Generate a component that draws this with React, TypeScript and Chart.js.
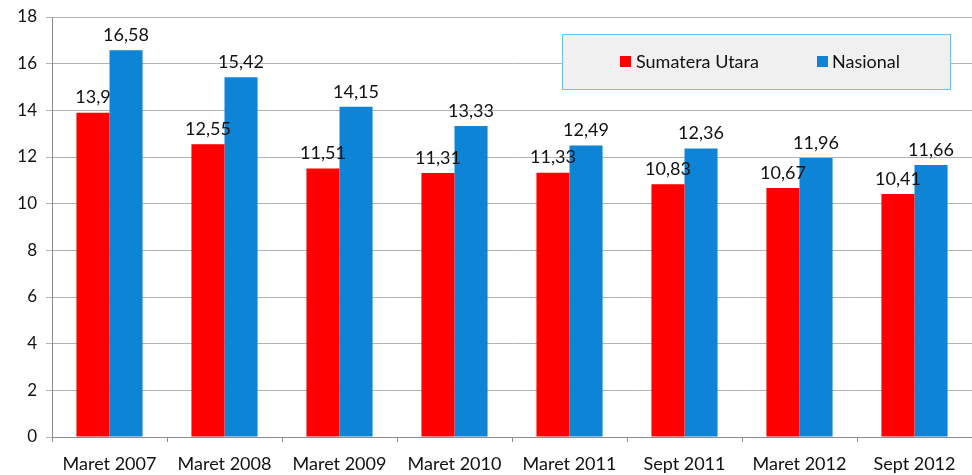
import React, { useEffect, useRef } from "react";
import { Chart, registerables } from "chart.js";

Chart.register(...registerables);

const categories = ["Maret 2007", "Maret 2008", "Maret 2009", "Maret 2010", "Maret 2011", "Sept 2011", "Maret 2012", "Sept 2012"];
const sumateraUtara = [13.9, 12.55, 11.51, 11.31, 11.33, 10.83, 10.67, 10.41];
const nasional = [16.58, 15.42, 14.15, 13.33, 12.49, 12.36, 11.96, 11.66];
const seriesNames = ["Sumatera Utara", "Nasional"];
const seriesColors = ["#ff0000", "#0e84d6"];
const yTicks = [0, 2, 4, 6, 8, 10, 12, 14, 16, 18];

const FONT = "Lato, 'Open Sans', sans-serif";

const valueLabels = {
  id: "valueLabels",
  afterDatasetsDraw(chart: any) {
    const ctx = chart.ctx;
    ctx.save();
    ctx.font = `18px ${FONT}`;
    ctx.fillStyle = "#111111";
    ctx.textAlign = "center";
    ctx.textBaseline = "bottom";
    chart.data.datasets.forEach((ds: any, i: number) => {
      const meta = chart.getDatasetMeta(i);
      meta.data.forEach((bar: any, j: number) => {
        const v = ds.data[j];
        ctx.fillText(String(v).replace(".", ","), bar.x, bar.y - 6);
      });
    });
    ctx.restore();
  },
};

const boxLegend = {
  id: "boxLegend",
  afterDraw(chart: any) {
    const ctx = chart.ctx;
    const x = 562, y = 34, w = 389, h = 56;
    ctx.save();
    ctx.fillStyle = "#f0f0f0";
    ctx.fillRect(x, y, w, h);
    ctx.strokeStyle = "#66c4f4";
    ctx.lineWidth = 1;
    ctx.strokeRect(x + 0.5, y + 0.5, w - 1, h - 1);
    ctx.font = `18px ${FONT}`;
    ctx.textBaseline = "middle";
    ctx.textAlign = "left";
    const items = [
      { sx: 620, tx: 636 },
      { sx: 817, tx: 832 },
    ];
    items.forEach((it, i) => {
      ctx.fillStyle = seriesColors[i];
      ctx.fillRect(it.sx, y + 22, 11, 11);
      ctx.fillStyle = "#111111";
      ctx.fillText(seriesNames[i], it.tx, y + 28);
    });
    ctx.restore();
  },
};

export default function App() {
  const ref = useRef<HTMLCanvasElement>(null);
  useEffect(() => {
    document.body.style.margin = "0";
    const chart = new Chart(ref.current!, {
      type: "bar",
      data: {
        labels: categories,
        datasets: [
          { label: seriesNames[0], data: sumateraUtara, backgroundColor: seriesColors[0] },
          { label: seriesNames[1], data: nasional, backgroundColor: seriesColors[1] },
        ],
      },
      options: {
        responsive: false,
        animation: false,
        devicePixelRatio: 1,
        layout: { padding: { top: 17, right: -4, left: 0, bottom: 0 } },
        datasets: { bar: { categoryPercentage: 0.575, barPercentage: 1 } } as any,
        plugins: { legend: { display: false }, tooltip: { enabled: false } },
        scales: {
          x: {
            grid: { display: true, drawOnChartArea: false, drawTicks: true, tickLength: 5, color: "#8c8c8c", offset: true },
            border: { color: "#8c8c8c" },
            ticks: { font: { family: FONT, size: 18 }, color: "#111111", padding: 11, maxRotation: 0 },
            afterFit(scale: any) { scale.height = 38; },
          },
          y: {
            min: 0,
            max: 18,
            afterBuildTicks(scale: any) { scale.ticks = yTicks.map((v) => ({ value: v })); },
            grid: { color: "#b3b3b3", tickLength: 6 },
            border: { color: "#8c8c8c" },
            ticks: { font: { family: FONT, size: 17 }, color: "#111111", padding: 9 },
            afterFit(scale: any) { scale.width = 52; scale.paddingTop = 0; scale.paddingBottom = 0; },
          },
        },
      },
      plugins: [valueLabels, boxLegend],
    });
    return () => chart.destroy();
  }, []);
  return <canvas ref={ref} width={972} height={475} style={{ display: "block" }} />;
}
